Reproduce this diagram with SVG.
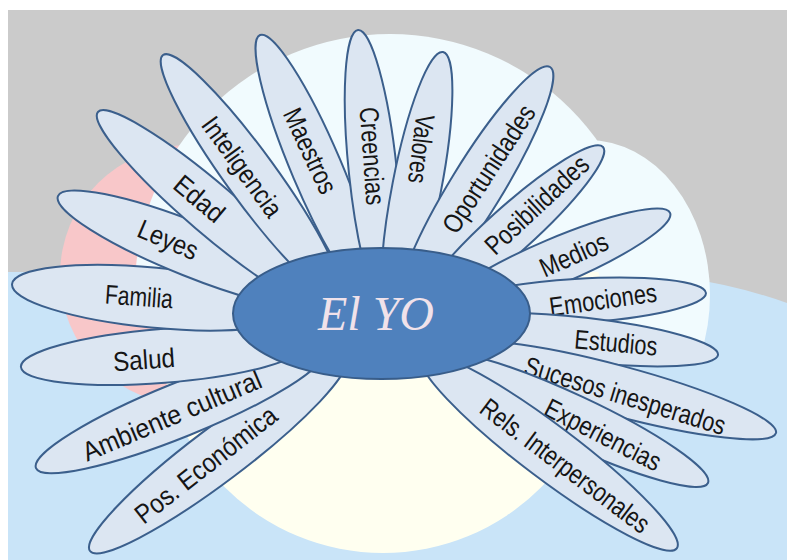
<svg xmlns="http://www.w3.org/2000/svg" width="787" height="560" viewBox="0 0 787 560">
<defs>
<style>
.petal{fill:#dce6f2;stroke:#3b5f8c;stroke-width:2}
.lbl{font-family:"Liberation Sans",Arial,sans-serif;font-size:27px;fill:#151515;text-anchor:middle;dominant-baseline:central}
</style>
<clipPath id="up"><rect x="0" y="0" width="787" height="272"/></clipPath>
<clipPath id="low"><path d="M0,272 H600 Q700,272 787,303 V560 H0 Z"/></clipPath>
<clipPath id="rt"><rect x="0" y="0" width="787" height="362"/></clipPath>
</defs>
<rect x="0" y="0" width="787" height="560" fill="#ffffff"/>
<g id="background">
<rect x="8" y="10" width="779" height="550" fill="#cbcbcb"/>
<path d="M8,272 H600 Q700,272 787,303 V560 H8 Z" fill="#c9e4f8"/>
<circle cx="190" cy="275" r="130" fill="#f8c7c9"/>
<circle cx="390" cy="289" r="255" fill="#f1fbfe" clip-path="url(#up)"/>
<ellipse cx="588" cy="295" rx="122" ry="155" fill="#f1fbfe" clip-path="url(#rt)"/>
<circle cx="383" cy="330" r="223" fill="#fffff0" clip-path="url(#low)"/>
<rect x="0" y="0" width="8" height="560" fill="#ffffff"/>
</g>
<g id="petals">
<g id="p-pos"><ellipse class="petal" cx="217.8" cy="454.7" rx="160" ry="27" transform="rotate(-37 217.8 454.7)"/><text class="lbl" x="206" y="465" transform="rotate(-38 206 465)" textLength="172" lengthAdjust="spacingAndGlyphs">Pos. Económica</text></g>
<g id="p-ambiente"><ellipse class="petal" cx="179.7" cy="410" rx="155" ry="27" transform="rotate(-22 179.7 410)"/><text class="lbl" x="172" y="416" transform="rotate(-23 172 416)" textLength="192" lengthAdjust="spacingAndGlyphs">Ambiente cultural</text></g>
<g id="p-salud"><ellipse class="petal" cx="163" cy="355.8" rx="142.5" ry="27" transform="rotate(-4.5 163 355.8)"/><text class="lbl" x="144" y="360" transform="rotate(-4 144 360)" textLength="62" lengthAdjust="spacingAndGlyphs">Salud</text></g>
<g id="p-familia"><ellipse class="petal" cx="153.9" cy="297.7" rx="142.5" ry="30" transform="rotate(5.5 153.9 297.7)"/><text class="lbl" x="139" y="297" transform="rotate(4 139 297)" textLength="68" lengthAdjust="spacingAndGlyphs">Familia</text></g>
<g id="p-leyes"><ellipse class="petal" cx="192.6" cy="249.9" rx="145" ry="27" transform="rotate(21.8 192.6 249.9)"/><text class="lbl" x="168" y="240" transform="rotate(23 168 240)" textLength="63" lengthAdjust="spacingAndGlyphs">Leyes</text></g>
<g id="p-edad"><ellipse class="petal" cx="212" cy="209.4" rx="150" ry="25" transform="rotate(40.5 212 209.4)"/><text class="lbl" x="199" y="199" transform="rotate(40 199 199)" textLength="57" lengthAdjust="spacingAndGlyphs">Edad</text></g>
<g id="p-inteligencia"><ellipse class="petal" cx="251.2" cy="176.4" rx="150" ry="25" transform="rotate(54 251.2 176.4)"/><text class="lbl" x="242" y="167" transform="rotate(54 242 167)" textLength="117" lengthAdjust="spacingAndGlyphs">Inteligencia</text></g>
<g id="p-maestros"><ellipse class="petal" cx="316.7" cy="168.5" rx="145" ry="25" transform="rotate(67 316.7 168.5)"/><text class="lbl" x="310" y="151" transform="rotate(65 310 151)" textLength="91" lengthAdjust="spacingAndGlyphs">Maestros</text></g>
<g id="p-creencias"><ellipse class="petal" cx="372.9" cy="171.7" rx="142.5" ry="24" transform="rotate(84 372.9 171.7)"/><text class="lbl" x="372" y="156" transform="rotate(86 372 156)" textLength="98" lengthAdjust="spacingAndGlyphs">Creencias</text></g>
<g id="p-valores"><ellipse class="petal" cx="416.8" cy="187" rx="137.5" ry="24.5" transform="rotate(101 416.8 187)"/><text class="lbl" x="421" y="149" transform="rotate(97 421 149)" textLength="69" lengthAdjust="spacingAndGlyphs">Valores</text></g>
<g id="p-oportunidades"><ellipse class="petal" cx="475.6" cy="188.5" rx="142.5" ry="26" transform="rotate(121.5 475.6 188.5)"/><text class="lbl" x="489" y="169" transform="rotate(-57 489 169)" textLength="147" lengthAdjust="spacingAndGlyphs">Oportunidades</text></g>
<g id="p-posibilidades"><ellipse class="petal" cx="510.1" cy="230.6" rx="125" ry="23" transform="rotate(138 510.1 230.6)"/><text class="lbl" x="537" y="205" transform="rotate(-43 537 205)" textLength="131" lengthAdjust="spacingAndGlyphs">Posibilidades</text></g>
<g id="p-medios"><ellipse class="petal" cx="555" cy="261.8" rx="125" ry="23" transform="rotate(157 555 261.8)"/><text class="lbl" x="574" y="255" transform="rotate(-24 574 255)" textLength="72" lengthAdjust="spacingAndGlyphs">Medios</text></g>
<g id="p-emociones"><ellipse class="petal" cx="576.2" cy="301" rx="130" ry="22" transform="rotate(176.5 576.2 301)"/><text class="lbl" x="603" y="300" transform="rotate(-8 603 300)" textLength="108" lengthAdjust="spacingAndGlyphs">Emociones</text></g>
<g id="p-estudios"><ellipse class="petal" cx="583.9" cy="339.7" rx="135" ry="22" transform="rotate(186.5 583.9 339.7)"/><text class="lbl" x="616" y="343" transform="rotate(5 616 343)" textLength="83" lengthAdjust="spacingAndGlyphs">Estudios</text></g>
<g id="p-sucesos"><ellipse class="petal" cx="616.6" cy="390.3" rx="165" ry="25" transform="rotate(195 616.6 390.3)"/><text class="lbl" x="625" y="396" transform="rotate(17 625 396)" textLength="209" lengthAdjust="spacingAndGlyphs">Sucesos inesperados</text></g>
<g id="p-experiencias"><ellipse class="petal" cx="572" cy="419.6" rx="150" ry="25" transform="rotate(205 572 419.6)"/><text class="lbl" x="603" y="435" transform="rotate(27 603 435)" textLength="127" lengthAdjust="spacingAndGlyphs">Experiencias</text></g>
<g id="p-rels"><ellipse class="petal" cx="549" cy="452" rx="160" ry="27" transform="rotate(217 549 452)"/><text class="lbl" x="565" y="466" transform="rotate(37 565 466)" textLength="204" lengthAdjust="spacingAndGlyphs">Rels. Interpersonales</text></g>
</g>
<g id="center">
<ellipse cx="381.5" cy="313.5" rx="148.5" ry="65.5" fill="#4f81bd" stroke="#385d8a" stroke-width="2"/>
<text x="376" y="330" text-anchor="middle" font-family="'Liberation Serif','Times New Roman',serif" font-style="italic" font-size="48" fill="#f0e2ea">El YO</text>
</g>
</svg>
